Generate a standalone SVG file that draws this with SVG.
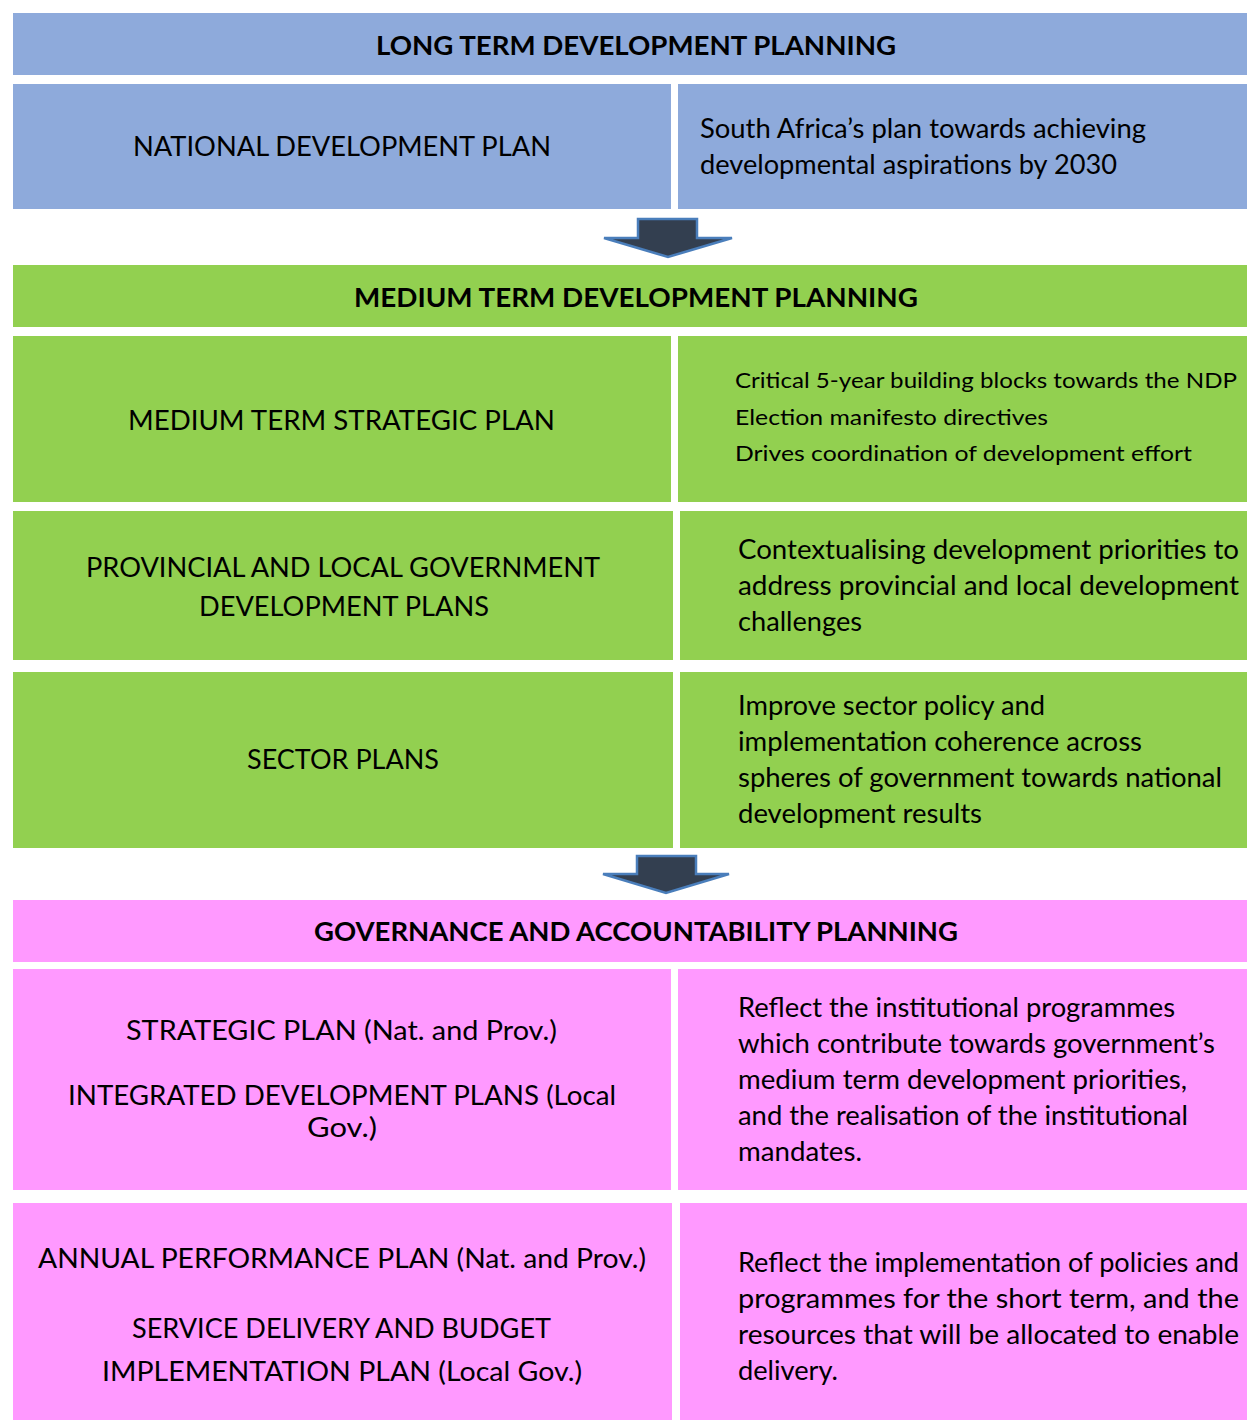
<svg xmlns="http://www.w3.org/2000/svg" width="1247" height="1420" viewBox="0 0 1247 1420">
<style>
.blue{fill:#8EAADB}
.green{fill:#92D050}
.pink{fill:#FF99FF}
text{font-family:Lato,"Open Sans","Liberation Sans",sans-serif;fill:#000;font-size:26px}
.h{font-weight:bold}
.s{font-size:22px}
.arrow{fill:#333F50;stroke:#4A7EBB;stroke-width:2.5;stroke-linejoin:miter}
</style>
<rect width="1247" height="1420" fill="#fff"/>
<g id="long-term-header"><rect class="blue" x="13" y="13" width="1234" height="62"/><text class="h" x="376" y="55" textLength="520" lengthAdjust="spacingAndGlyphs">LONG TERM DEVELOPMENT PLANNING</text></g>
<g id="ndp"><rect class="blue" x="13" y="84" width="658" height="125"/><text x="133" y="156" textLength="418" lengthAdjust="spacingAndGlyphs">NATIONAL DEVELOPMENT PLAN</text></g>
<g id="ndp-desc"><rect class="blue" x="678" y="84" width="569" height="125"/><text x="700" y="138" textLength="446" lengthAdjust="spacingAndGlyphs">South Africa’s plan towards achieving</text><text x="700" y="174" textLength="417" lengthAdjust="spacingAndGlyphs">developmental aspirations by 2030</text></g>
<g id="medium-term-header"><rect class="green" x="13" y="265" width="1234" height="62"/><text class="h" x="354" y="307" textLength="564" lengthAdjust="spacingAndGlyphs">MEDIUM TERM DEVELOPMENT PLANNING</text></g>
<g id="mtsp"><rect class="green" x="13" y="336" width="658" height="166"/><text x="128" y="430" textLength="427" lengthAdjust="spacingAndGlyphs">MEDIUM TERM STRATEGIC PLAN</text></g>
<g id="mtsp-desc"><rect class="green" x="678" y="336" width="569" height="166"/><text class="s" x="735" y="388" textLength="502" lengthAdjust="spacingAndGlyphs">Critical 5-year building blocks towards the NDP</text><text class="s" x="735" y="425" textLength="313" lengthAdjust="spacingAndGlyphs">Election manifesto directives</text><text class="s" x="735" y="461" textLength="457" lengthAdjust="spacingAndGlyphs">Drives coordination of development effort</text></g>
<g id="plgdp"><rect class="green" x="13" y="511" width="660" height="149"/><text x="86" y="577" textLength="514" lengthAdjust="spacingAndGlyphs">PROVINCIAL AND LOCAL GOVERNMENT</text><text x="199" y="616" textLength="290" lengthAdjust="spacingAndGlyphs">DEVELOPMENT PLANS</text></g>
<g id="plgdp-desc"><rect class="green" x="680" y="511" width="567" height="149"/><text x="738" y="559" textLength="501" lengthAdjust="spacingAndGlyphs">Contextualising development priorities to</text><text x="738" y="595" textLength="501" lengthAdjust="spacingAndGlyphs">address provincial and local development</text><text x="738" y="631" textLength="124" lengthAdjust="spacingAndGlyphs">challenges</text></g>
<g id="sector"><rect class="green" x="13" y="672" width="660" height="176"/><text x="247" y="769" textLength="192" lengthAdjust="spacingAndGlyphs">SECTOR PLANS</text></g>
<g id="sector-desc"><rect class="green" x="680" y="672" width="567" height="176"/><text x="738" y="715" textLength="307" lengthAdjust="spacingAndGlyphs">Improve sector policy and</text><text x="738" y="751" textLength="404" lengthAdjust="spacingAndGlyphs">implementation coherence across</text><text x="738" y="787" textLength="484" lengthAdjust="spacingAndGlyphs">spheres of government towards national</text><text x="738" y="823" textLength="244" lengthAdjust="spacingAndGlyphs">development results</text></g>
<g id="gov-header"><rect class="pink" x="13" y="900" width="1234" height="62"/><text class="h" x="314" y="941" textLength="644" lengthAdjust="spacingAndGlyphs">GOVERNANCE AND ACCOUNTABILITY PLANNING</text></g>
<g id="strategic"><rect class="pink" x="13" y="969" width="658" height="221"/><text x="126" y="1040" textLength="431" lengthAdjust="spacingAndGlyphs">STRATEGIC PLAN (Nat. and Prov.)</text><text x="68" y="1105" textLength="548" lengthAdjust="spacingAndGlyphs">INTEGRATED DEVELOPMENT PLANS (Local</text><text x="307" y="1137" textLength="70" lengthAdjust="spacingAndGlyphs">Gov.)</text></g>
<g id="strategic-desc"><rect class="pink" x="678" y="969" width="569" height="221"/><text x="738" y="1017" textLength="437" lengthAdjust="spacingAndGlyphs">Reflect the institutional programmes</text><text x="738" y="1053" textLength="477" lengthAdjust="spacingAndGlyphs">which contribute towards government’s</text><text x="738" y="1089" textLength="449" lengthAdjust="spacingAndGlyphs">medium term development priorities,</text><text x="738" y="1125" textLength="450" lengthAdjust="spacingAndGlyphs">and the realisation of the institutional</text><text x="738" y="1161" textLength="124" lengthAdjust="spacingAndGlyphs">mandates.</text></g>
<g id="app"><rect class="pink" x="13" y="1203" width="659" height="217"/><text x="38" y="1268" textLength="608" lengthAdjust="spacingAndGlyphs">ANNUAL PERFORMANCE PLAN (Nat. and Prov.)</text><text x="132" y="1338" textLength="419" lengthAdjust="spacingAndGlyphs">SERVICE DELIVERY AND BUDGET</text><text x="102" y="1381" textLength="480" lengthAdjust="spacingAndGlyphs">IMPLEMENTATION PLAN (Local Gov.)</text></g>
<g id="app-desc"><rect class="pink" x="680" y="1203" width="567" height="217"/><text x="738" y="1272" textLength="501" lengthAdjust="spacingAndGlyphs">Reflect the implementation of policies and</text><text x="738" y="1308" textLength="501" lengthAdjust="spacingAndGlyphs">programmes for the short term, and the</text><text x="738" y="1344" textLength="501" lengthAdjust="spacingAndGlyphs">resources that will be allocated to enable</text><text x="738" y="1380" textLength="100" lengthAdjust="spacingAndGlyphs">delivery.</text></g>
<g id="connectors">
<polygon class="arrow" points="638,219 697,219 697,238 732,238 668,257 604,238 638,238"/>
<polygon class="arrow" points="637,856 696,856 696,874 729,874 666,893 603,874 637,874"/>
</g>
</svg>
